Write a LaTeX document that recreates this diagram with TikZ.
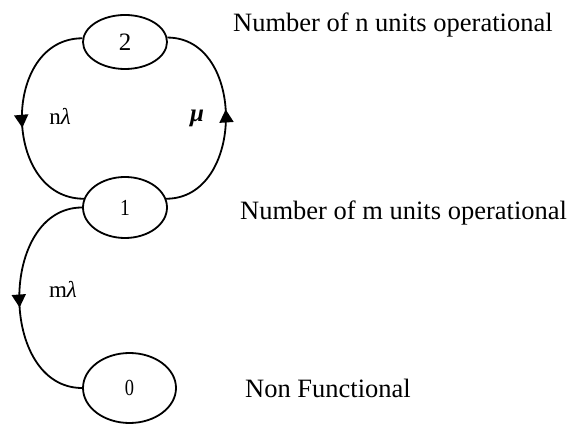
\documentclass[tikz,border=0pt]{standalone}
\usepackage{fontspec}
\setmainfont{Liberation Serif}
\usetikzlibrary{shapes.geometric,arrows.meta,decorations.markings}
\begin{document}
\begin{tikzpicture}[x=1pt,y=1pt,
  state/.style={draw,ellipse,line width=1.8pt,inner sep=0pt},
  arc/.style={draw,line width=1.8pt,postaction={decorate},
    decoration={markings,mark=at position 0.54 with {\arrow{Triangle[width=14pt,length=13pt]}}}},
  lbl/.style={inner sep=0pt,font=\fontsize{23}{27}\selectfont},
  note/.style={inner sep=0pt,anchor=base west,font=\fontsize{26.5}{30}\selectfont}]
\useasboundingbox (0,0) rectangle (569,425);
\node[state,minimum width=84pt,minimum height=54pt,font=\fontsize{25}{28}\selectfont] (n2) at (125,383) {2};
\node[state,minimum width=84pt,minimum height=61pt,font=\fontsize{23}{26}\selectfont] (n1) at (125,217.5) {\scalebox{0.85}[1]{1}};
\node[state,minimum width=93pt,minimum height=70pt,font=\fontsize{23}{26}\selectfont] (n0) at (129.5,37) {\scalebox{0.8}[1]{0}};
\path[arc] (n2.175) to[out=180,in=180,looseness=1.3] (n1.168);
\path[arc] (n1.12) to[out=0,in=0,looseness=1.25] (n2.6);
\path[arc] (n1.west) to[out=180,in=180,looseness=1.19] (n0.west);
\node[lbl] (l1) at (60,309) {n\textit{λ}};
\node[lbl,font=\fontsize{25}{28}\selectfont] (l2) at (197,307) {\textbf{\textit{μ}}};
\node[lbl] (l3) at (63,136) {m\textit{λ}};
\node[note] (t2) at (233,393) {Number of n units operational};
\node[note] (t1) at (240,205.5) {Number of m units operational};
\node[note] (t0) at (245,28) {Non Functional};
\end{tikzpicture}
\end{document}
